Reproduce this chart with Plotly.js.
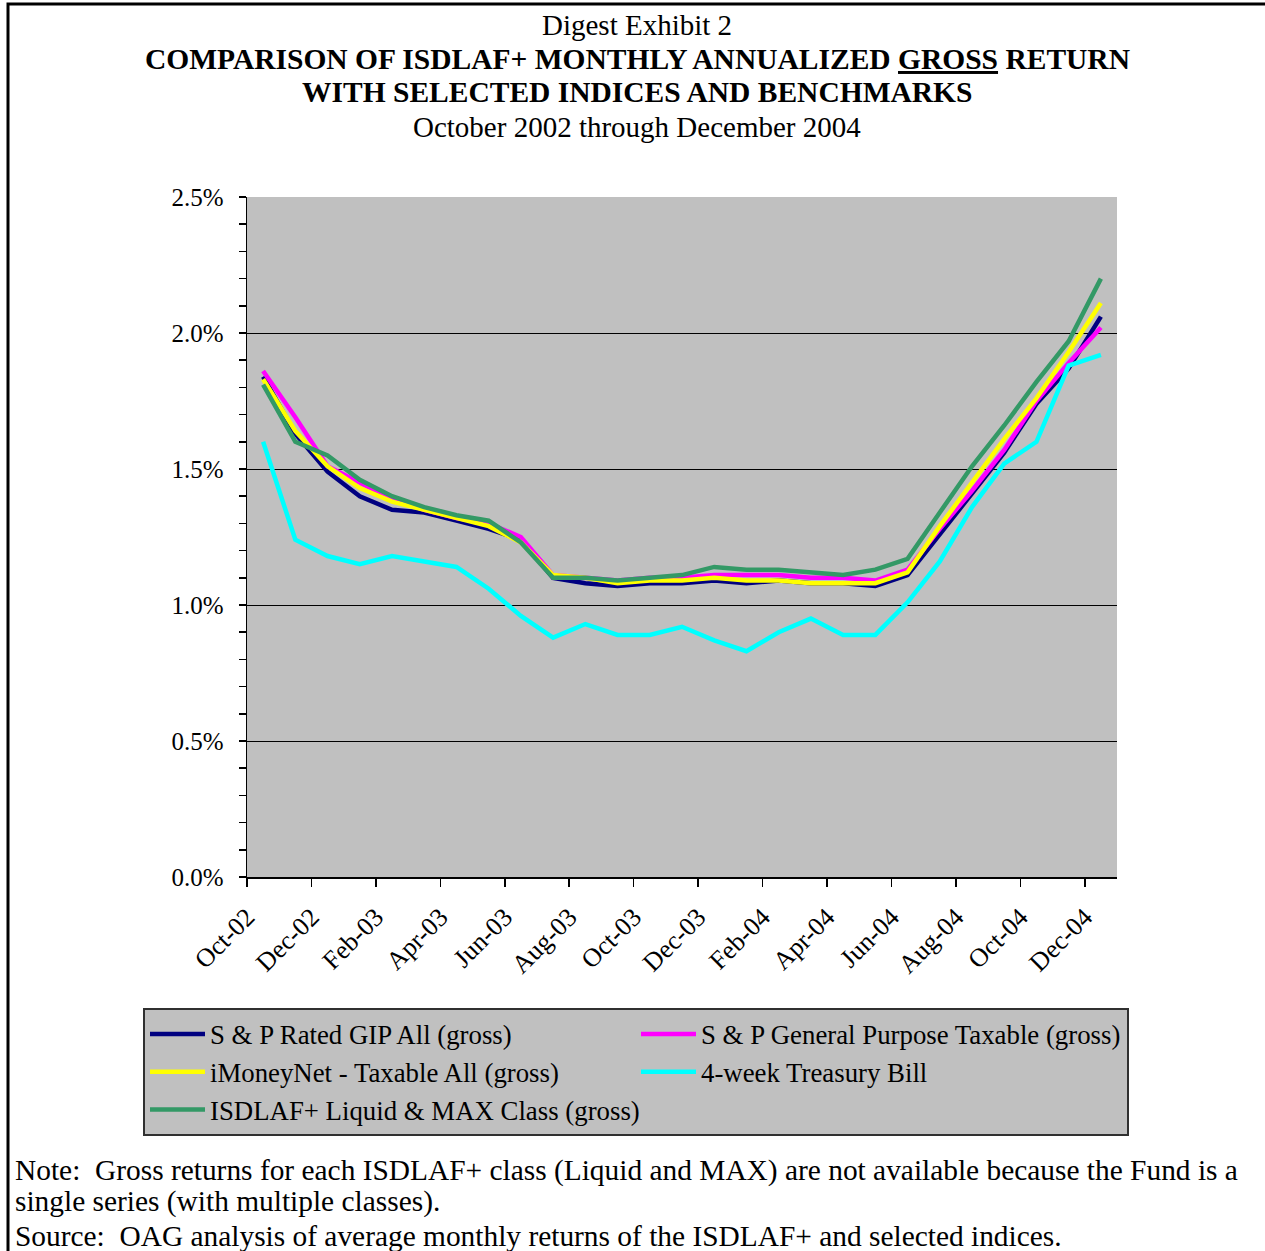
<!DOCTYPE html>
<html>
<head>
<meta charset="utf-8">
<script src="https://cdn.plot.ly/plotly-3.0.1.min.js"></script>
<style>html,body{margin:0;padding:0;background:#fff;}</style>
</head>
<body>
<div id="chart" style="width:1265px;height:1251px;"></div>
<script>
var months = ["Oct-02","Nov-02","Dec-02","Jan-03","Feb-03","Mar-03","Apr-03","May-03","Jun-03","Jul-03","Aug-03","Sep-03","Oct-03","Nov-03","Dec-03","Jan-04","Feb-04","Mar-04","Apr-04","May-04","Jun-04","Jul-04","Aug-04","Sep-04","Oct-04","Nov-04","Dec-04"];

var spRatedGIP = [1.84,1.63,1.49,1.40,1.35,1.34,1.31,1.28,1.24,1.10,1.08,1.07,1.08,1.08,1.09,1.08,1.09,1.08,1.08,1.07,1.11,1.26,1.41,1.56,1.74,1.87,2.06];
var spGeneralTaxable = [1.86,1.69,1.51,1.45,1.39,1.35,1.32,1.30,1.25,1.11,1.10,1.09,1.10,1.10,1.11,1.11,1.11,1.10,1.10,1.09,1.13,1.28,1.42,1.57,1.75,1.89,2.02];
var iMoneyNet = [1.83,1.64,1.51,1.43,1.38,1.35,1.32,1.29,1.23,1.11,1.10,1.08,1.09,1.09,1.10,1.09,1.09,1.08,1.08,1.08,1.12,1.29,1.45,1.61,1.76,1.93,2.11];
var tBill4wk = [1.60,1.24,1.18,1.15,1.18,1.16,1.14,1.06,0.96,0.88,0.93,0.89,0.89,0.92,0.87,0.83,0.90,0.95,0.89,0.89,1.01,1.16,1.36,1.52,1.60,1.88,1.92];
var isdlaf = [1.81,1.60,1.55,1.46,1.40,1.36,1.33,1.31,1.23,1.10,1.10,1.09,1.10,1.11,1.14,1.13,1.13,1.12,1.11,1.13,1.17,1.34,1.51,1.66,1.82,1.97,2.20];

var seriesNames = ["S & P Rated GIP All (gross)","S & P General Purpose Taxable (gross)","iMoneyNet - Taxable All (gross)","4-week Treasury Bill","ISDLAF+ Liquid & MAX Class (gross)"];
var seriesColors = ["#000080","#FF00FF","#FFFF00","#00FFFF","#339966"];
var seriesData = [spRatedGIP, spGeneralTaxable, iMoneyNet, tBill4wk, isdlaf];

var xIdx = months.map(function(m, i){ return i; });
var tickPos = [], tickTxt = [];
months.forEach(function(m, i){ if (i % 2 === 0) { tickPos.push(i - 0.5); tickTxt.push(m); } });

var traces = seriesData.map(function(d, k){
  return {
    x: xIdx, y: d, type: 'scatter', mode: 'lines',
    name: seriesNames[k],
    line: {color: seriesColors[k], width: 4.5},
    hoverinfo: 'skip'
  };
});

var L = 247, T = 197, W = 870, H = 680;
function px(x){ return (x - L) / W; }
function py(y){ return (T + H - y) / H; }
var serif = "Liberation Serif, Times New Roman, serif";

var layout = {
  width: 1265, height: 1251,
  margin: {l: 247, r: 148, t: 197, b: 374},
  paper_bgcolor: '#ffffff',
  plot_bgcolor: '#C0C0C0',
  font: {family: serif, size: 25, color: '#000'},
  showlegend: true,
  legend: {
    orientation: 'h', x: px(143), y: py(1008), xanchor: 'left', yanchor: 'top',
    xref: 'paper', yref: 'paper',
    bgcolor: '#C0C0C0', bordercolor: '#303030', borderwidth: 2,
    font: {family: serif, size: 26.8, color: '#000'},
    itemwidth: 55, entrywidth: 421, entrywidthmode: 'pixels',
    traceorder: 'normal'
  },
  xaxis: {
    type: 'linear', range: [-0.5, 26.5],
    tickmode: 'array', tickvals: tickPos, ticktext: tickTxt,
    tickangle: -45, ticks: 'outside', ticklen: 8, tickcolor: '#000', tickwidth: 1.5,
    ticklabelstandoff: 5,
    showgrid: false, zeroline: false,
    showline: true, linecolor: '#000', linewidth: 1.5,
    tickfont: {family: serif, size: 26, color: '#000'}
  },
  yaxis: {
    range: [0, 2.5], dtick: 0.5, tick0: 0, tickformat: '.1f', ticksuffix: '%',
    ticks: 'outside', ticklen: 7, tickcolor: '#000', tickwidth: 1.5,
    ticklabelstandoff: 10,
    showgrid: true, gridcolor: '#000', gridwidth: 1,
    zeroline: false, showline: true, linecolor: '#000', linewidth: 1.5,
    tickfont: {family: serif, size: 25, color: '#000'},
    minor: {dtick: 0.1, ticks: 'outside', ticklen: 7, tickcolor: '#000', tickwidth: 1.5, showgrid: false}
  },
  shapes: [
    {type: 'rect', xref: 'paper', yref: 'paper', x0: px(8), x1: px(1300), y0: py(1300), y1: py(4),
     line: {color: '#000', width: 3}, fillcolor: 'rgba(0,0,0,0)', layer: 'above'}
  ],
  annotations: [
    {text: 'Digest Exhibit 2', x: px(637), y: py(25), xref: 'paper', yref: 'paper', showarrow: false, xanchor: 'center', yanchor: 'middle', font: {family: serif, size: 29}},
    {text: '<b>COMPARISON OF ISDLAF+ MONTHLY ANNUALIZED <u>GROSS</u> RETURN</b>', x: px(637), y: py(59), xref: 'paper', yref: 'paper', showarrow: false, xanchor: 'center', yanchor: 'middle', font: {family: serif, size: 29.5}},
    {text: '<b>WITH SELECTED INDICES AND BENCHMARKS</b>', x: px(637), y: py(92), xref: 'paper', yref: 'paper', showarrow: false, xanchor: 'center', yanchor: 'middle', font: {family: serif, size: 29.5}},
    {text: 'October 2002 through December 2004', x: px(637), y: py(127), xref: 'paper', yref: 'paper', showarrow: false, xanchor: 'center', yanchor: 'middle', font: {family: serif, size: 29}},
    {text: 'Note:  Gross returns for each ISDLAF+ class (Liquid and MAX) are not available because the Fund is a', x: px(13), y: py(1170), xref: 'paper', yref: 'paper', showarrow: false, xanchor: 'left', yanchor: 'middle', font: {family: serif, size: 29.4}},
    {text: 'single series (with multiple classes).', x: px(13), y: py(1201), xref: 'paper', yref: 'paper', showarrow: false, xanchor: 'left', yanchor: 'middle', font: {family: serif, size: 29.4}},
    {text: 'Source:  OAG analysis of average monthly returns of the ISDLAF+ and selected indices.', x: px(13), y: py(1236), xref: 'paper', yref: 'paper', showarrow: false, xanchor: 'left', yanchor: 'middle', font: {family: serif, size: 29.4}}
  ]
};

Plotly.newPlot('chart', traces, layout, {staticPlot: true, displayModeBar: false});
</script>
</body>
</html>
